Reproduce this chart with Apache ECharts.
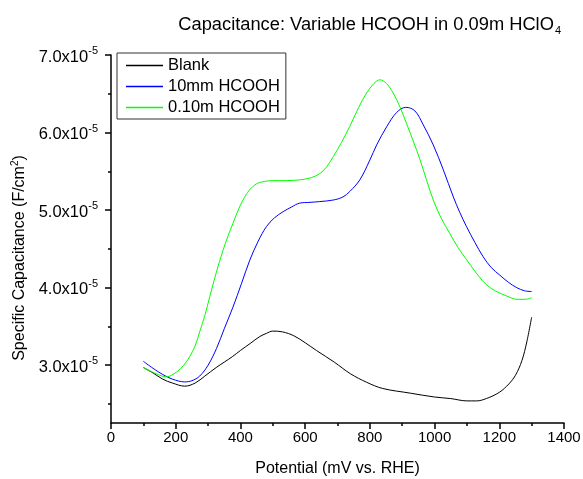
<!DOCTYPE html>
<html><head><meta charset="utf-8">
<script src="https://cdn.jsdelivr.net/npm/echarts@6/dist/echarts.min.js"></script>
<style>html,body{margin:0;padding:0;background:#fff}#c{width:583px;height:479px}</style>
</head><body><div id="c"></div>
<script>
// Potential (mV vs. RHE) and specific capacitance in units of 1e-5 F/cm^2
const blankX = [100,130,160,190,228,260,290,325,350,375,400,430,460,480,500,530,565,600,635,690,740,790,840,925,1000,1050,1100,1130,1160,1200,1230,1250,1270,1285,1300];
const blankY = [2.97,2.90,2.82,2.77,2.73,2.77,2.86,2.97,3.04,3.11,3.19,3.28,3.37,3.41,3.44,3.43,3.38,3.29,3.19,3.04,2.89,2.78,2.70,2.64,2.59,2.57,2.54,2.54,2.57,2.65,2.76,2.87,3.06,3.30,3.62];
const mm10X = [100,130,160,190,228,250,274,300,326,350,377,403,429,455,480,505,532,558,583,615,645,687,717,738,769,800,821,852,883,911,939,965,996,1027,1058,1078,1099,1125,1150,1175,1202,1228,1254,1278,1300];
const mm10Y = [3.05,2.96,2.88,2.82,2.785,2.80,2.86,3.00,3.215,3.47,3.75,4.05,4.355,4.60,4.785,4.90,4.98,5.04,5.09,5.10,5.11,5.13,5.17,5.24,5.39,5.645,5.84,6.075,6.26,6.325,6.28,6.10,5.84,5.52,5.17,4.97,4.785,4.58,4.40,4.26,4.16,4.07,4.00,3.96,3.95];
const m010X = [100,140,171,202,225,243,260,274,290,305,325,346,362,377,392,408,428,450,475,500,540,583,620,645,665,687,712,738,765,790,812,831,852,872,893,913,935,955,975,996,1020,1047,1072,1099,1125,1150,1175,1202,1230,1254,1280,1300];
const m010Y = [2.97,2.89,2.85,2.91,3.00,3.11,3.25,3.43,3.64,3.88,4.19,4.48,4.67,4.83,4.99,5.13,5.26,5.34,5.37,5.38,5.38,5.39,5.42,5.47,5.55,5.69,5.87,6.08,6.32,6.51,6.63,6.68,6.63,6.51,6.33,6.12,5.88,5.65,5.39,5.13,4.90,4.70,4.52,4.36,4.21,4.08,3.99,3.93,3.88,3.85,3.85,3.87];
const seriesNames = ['Blank','10mm HCOOH','0.10m HCOOH'];
const seriesColors = ['#000000','#0000ff','#00ff00'];
const xTicks = [0,200,400,600,800,1000,1200,1400];
const yMajor = [3,4,5,6,7];
const yMinor = [2.5,3.5,4.5,5.5,6.5];

const pair = (xs, ys) => xs.map((x, i) => [x, ys[i]]);
const chart = echarts.init(document.getElementById('c'));
const FONT = 'Liberation Sans, Arial, sans-serif';
const axisCommon = {
  axisLine: {show: true, lineStyle: {color: '#000', width: 1.5}},
  splitLine: {show: false}
};
const mkSeries = (i, xs, ys) => ({
  name: seriesNames[i], type: 'line', data: pair(xs, ys), smooth: 0.35, symbol: 'none',
  lineStyle: {color: seriesColors[i], width: 1}, itemStyle: {color: seriesColors[i]}
});
chart.setOption({
  animation: false,
  backgroundColor: '#fff',
  textStyle: {fontFamily: FONT},
  title: {
    text: '{a|Capacitance: Variable HCOOH in 0.09m HClO}{b|4}',
    right: 17, top: 8,
    textStyle: {
      fontWeight: 'normal',
      rich: {
        a: {fontSize: 18.3, color: '#000', fontFamily: FONT, fontWeight: 'normal'},
        b: {fontSize: 11, color: '#000', fontFamily: FONT, fontWeight: 'normal', padding: [12, 0, 0, 1]}
      }
    }
  },
  legend: {
    orient: 'vertical', left: 117, top: 53,
    padding: [4, 6, 3, 9],
    itemWidth: 37, itemHeight: 1.5, itemGap: 4,
    borderColor: '#333', borderWidth: 1,
    textStyle: {fontSize: 16.5, color: '#000', fontFamily: FONT},
    data: seriesNames.map((n, i) => ({name: n, icon: 'rect', itemStyle: {color: seriesColors[i]}}))
  },
  grid: {left: 111, right: 19, top: 55, bottom: 56, containLabel: false, outerBoundsMode: 'none'},
  xAxis: {
    type: 'value', min: 0, max: 1400, interval: 200,
    ...axisCommon,
    axisTick: {show: true, inside: false, length: 6, lineStyle: {color: '#000', width: 1.5}},
    minorTick: {show: true, splitNumber: 2, length: 3, lineStyle: {color: '#000', width: 1.5}},
    axisLabel: {fontSize: 15, color: '#000', margin: 7, fontFamily: FONT,
      customValues: xTicks, formatter: v => String(v)},
    name: 'Potential (mV vs. RHE)', nameLocation: 'middle', nameGap: 38,
    nameTextStyle: {fontSize: 16, color: '#000', fontFamily: FONT}
  },
  yAxis: [{
    type: 'value', min: 2.255, max: 7,
    ...axisCommon,
    axisTick: {show: true, inside: false, length: 6, customValues: yMajor, lineStyle: {color: '#000', width: 1.5}},
    axisLabel: {
      customValues: yMajor, margin: 13,
      formatter: v => '{b|' + v.toFixed(1) + 'x10}{s|-5}',
      rich: {
        b: {fontSize: 16.5, color: '#000', fontFamily: FONT, padding: [4, 0, 0, 0]},
        s: {fontSize: 11, color: '#000', fontFamily: FONT, padding: [0, 0, 8, 0]}
      }
    },
    name: 'Specific Capacitance (F/cm{s|2})', nameLocation: 'middle', nameGap: 72,
    nameTextStyle: {fontSize: 16, color: '#000', fontFamily: FONT, padding: [0, 38, 0, 0],
      rich: {s: {fontSize: 10, color: '#000', fontFamily: FONT, padding: [0, 0, 10, 0]}}}
  }, {
    type: 'value', min: 2.255, max: 7, position: 'left',
    axisLine: {show: false}, splitLine: {show: false},
    axisTick: {show: true, inside: false, length: 3, customValues: yMinor, lineStyle: {color: '#000', width: 1.5}},
    axisLabel: {show: false}
  }],
  series: [
    mkSeries(0, blankX, blankY),
    mkSeries(1, mm10X, mm10Y),
    mkSeries(2, m010X, m010Y)
  ]
});
</script></body></html>
